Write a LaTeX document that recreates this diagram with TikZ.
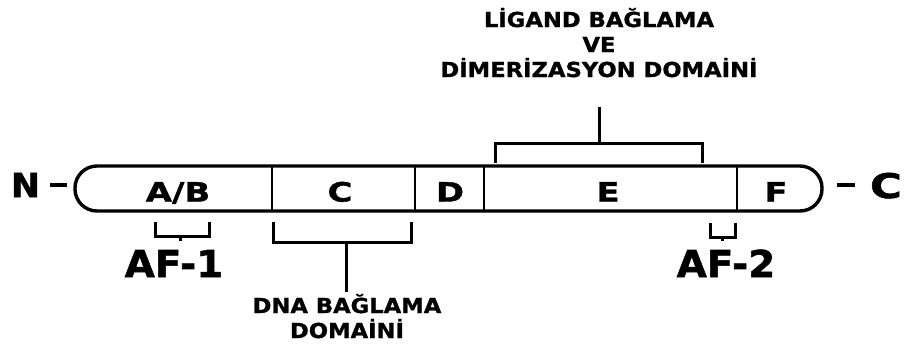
\documentclass[tikz,border=0pt]{standalone}
\usepackage{fontspec}
% heavy, slightly widened sans for all labels
\newfontfamily\lblfont[FakeStretch=1.1,FakeBold=1.2]{DejaVu Sans Bold}
\newfontfamily\domfont[FakeStretch=1.28,FakeBold=1.5]{DejaVu Sans Bold}
\newfontfamily\afont[FakeStretch=1.05,FakeBold=1.6]{DejaVu Sans Bold}
\begin{document}
\begin{tikzpicture}[x=1pt,y=-1pt,
  outline/.style={line width=3.4pt},
  divider/.style={line width=2.8pt},
  bracketline/.style={line width=3pt},
  domlabel/.style={font=\domfont\fontsize{26.5}{26.5}\selectfont, inner sep=0pt, anchor=base},
  endlabel/.style={inner sep=0pt, anchor=base},
  aflabel/.style={font=\afont\fontsize{37}{37}\selectfont, inner sep=0pt, anchor=base},
  caption/.style={font=\lblfont\fontsize{20.6}{25}\selectfont, align=center, inner sep=0pt, anchor=base}]
\useasboundingbox (0,0) rectangle (908,349);

% receptor bar with rounded N and C ends
\draw[outline, rounded corners=22pt] (75,166) rectangle (822,211);
\foreach \x in {272,415,484,737}
  \draw[divider] (\x,166) -- (\x,211);

% domain letters
\node[domlabel] (ab) at (178,201.5) {A/B};
\node[domlabel] (c)  at (340,201.5) {C};
\node[domlabel] (d)  at (450,201.5) {D};
\node[domlabel] (e)  at (608,201.5) {E};
\node[domlabel] (f)  at (776,201.5) {F};

% terminal labels
\node[endlabel, font=\afont\fontsize{33}{33}\selectfont] (nterm) at (25.5,197) {N};
\node[endlabel, font=\domfont\fontsize{34}{34}\selectfont] (cterm) at (886,198) {C};
\coordinate (nd1) at (50,185);  \coordinate (nd2) at (67,185);
\coordinate (cd1) at (837,185); \coordinate (cd2) at (855,185);
\draw[outline] (nd1) -- (nd2);
\draw[outline] (cd1) -- (cd2);

% AF-1 bracket
\coordinate (af1l) at (155,222); \coordinate (af1r) at (209,222);
\coordinate (af1m) at (180,236); \coordinate (af1t) at (180,241);
\draw[bracketline] (af1l) -- (af1l |- af1m) -- (af1r |- af1m) -- (af1r);
\draw[bracketline] (af1m) -- (af1t);
\node[aflabel] (af1) at (174,277) {AF-1};

% AF-2 bracket
\coordinate (af2l) at (710,223); \coordinate (af2r) at (735,223);
\coordinate (af2m) at (722,237); \coordinate (af2t) at (722,241);
\draw[bracketline] (af2l) -- (af2l |- af2m) -- (af2r |- af2m) -- (af2r);
\draw[bracketline] (af2m) -- (af2t);
\node[aflabel] (af2) at (726,277) {AF-2};

% DNA binding domain bracket
\coordinate (dnal) at (273,222); \coordinate (dnar) at (411,222);
\coordinate (dnam) at (346,242); \coordinate (dnat) at (346,292);
\draw[bracketline] (dnal) -- (dnal |- dnam) -- (dnar |- dnam) -- (dnar);
\draw[bracketline] (dnam) -- (dnat);
\node[caption] (dna) at (347,338) {DNA BAĞLAMA\\DOMAİNİ};

% ligand binding and dimerisation domain bracket
\coordinate (ligl) at (495,163); \coordinate (ligr) at (702,163);
\coordinate (ligm) at (599,143); \coordinate (ligt) at (599,107);
\draw[bracketline] (ligl) -- (ligl |- ligm) -- (ligr |- ligm) -- (ligr);
\draw[bracketline] (ligm) -- (ligt);
\node[caption] (lig) at (599,77) {LİGAND BAĞLAMA\\VE\\DİMERİZASYON DOMAİNİ};
\end{tikzpicture}
\end{document}
